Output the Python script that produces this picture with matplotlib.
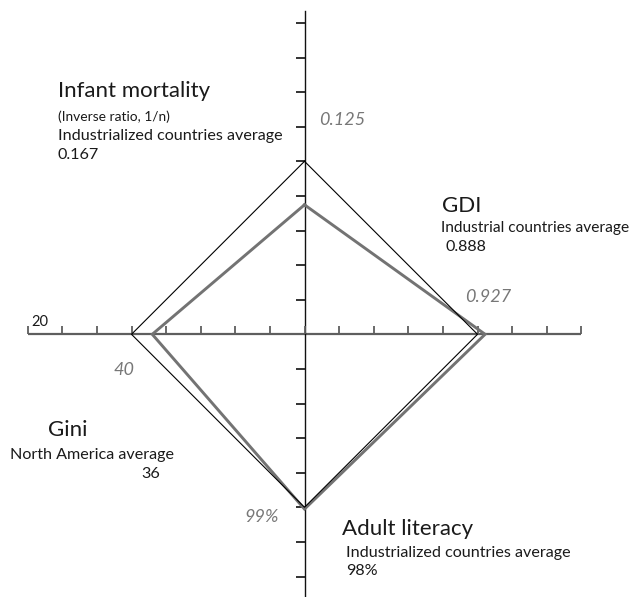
import matplotlib
matplotlib.use("Agg")
import matplotlib.pyplot as plt
import numpy as np

# ---- data ----
categories = ["Infant mortality", "GDI", "Adult literacy", "Gini"]
country_values = [0.125, 0.927, 99, 40]        # gray diamond
reference_values = [0.167, 0.888, 98, 36]      # black diamond
country_labels = ["0.125", "0.927", "99%", "40"]
gini_axis_end_label = "20"

# ---- scales (tick units from centre) ----
REF_R = 5.0
def radius(i, v):
    if categories[i] == "Gini":
        return REF_R - (v - reference_values[i]) * 0.15
    return REF_R * v / reference_values[i]

directions = {"Infant mortality": (0, 1), "GDI": (1, 0),
              "Adult literacy": (0, -1), "Gini": (-1, 0)}

W, H = 634, 597
CX, CY, U = 304.5, 334.3, 34.6
fig = plt.figure(figsize=(W / 100, H / 100), dpi=100)
ax = fig.add_axes([0, 0, 1, 1])
ax.set_xlim(-CX / U, (W - CX) / U)
ax.set_ylim(-(H - CY) / U, CY / U)
ax.axis("off")

FONT = "Lato"

def poly(vals):
    xs, ys = [], []
    for i, c in enumerate(categories):
        r = radius(i, vals[i])
        dx, dy = directions[c]
        xs.append(dx * r); ys.append(dy * r)
    xs.append(xs[0]); ys.append(ys[0])
    return xs, ys

# axes
ax.plot([-8, 8], [0, 0], color="#5e5e5e", lw=1.6, zorder=2, solid_capstyle="butt")
ax.plot([0, 0], [-(H - CY) / U, (CY - 11) / U], color="#111111", lw=1.0, zorder=2)
tick_h = 8 / U
for k in range(-8, 9):
    ax.plot([k, k], [0, tick_h], color="#5e5e5e", lw=1.3, zorder=2, solid_capstyle="butt")
for k in list(range(1, 10)) + list(range(-7, 0)):
    ax.plot([-9 / U, 0], [k, k], color="#222222", lw=1.3, zorder=2, solid_capstyle="butt")

gx, gy = poly(country_values)
ax.plot(gx, gy, color="#737373", lw=2.1, zorder=3, solid_joinstyle="miter")
bx, by = poly(reference_values)
ax.plot(bx, by, color="#000000", lw=0.8, zorder=4, solid_joinstyle="miter")

def txt(x, y, s, size, color="#1a1a1a", italic=False, ha="left"):
    fig.text(x / W, 1 - y / H, s, fontsize=size, color=color, ha=ha, va="center",
             family=FONT, style="italic" if italic else "normal")

BIG, SMALL, NUM = 16, 11.6, 13

# Infant mortality
txt(58, 91, categories[0], BIG)
txt(58, 117, "(Inverse ratio, 1/n)", 9.9)
txt(58, 136, "Industrialized countries average", SMALL)
txt(58, 155, "0.167", SMALL)
txt(319, 120, country_labels[0], NUM, color="#777777", italic=True)

# GDI
txt(442, 206, categories[1], BIG)
txt(441, 228, "Industrial countries average", 11.2)
txt(445, 247, "0.888", SMALL)
txt(465, 297, country_labels[1], NUM, color="#777777", italic=True)

# Gini
txt(31, 322, gini_axis_end_label, 10.5)
txt(114, 370, country_labels[3], NUM, color="#777777", italic=True)
txt(48, 430, categories[3], BIG)
txt(10, 455, "North America average", SMALL)
txt(141, 474, "36", SMALL)

# Adult literacy
txt(244, 517, country_labels[2], NUM, color="#777777", italic=True)
txt(342, 529, categories[2], BIG)
txt(346, 553, "Industrialized countries average", SMALL)
txt(346, 571, "98%", SMALL)

fig.savefig("out.png", dpi=100)
